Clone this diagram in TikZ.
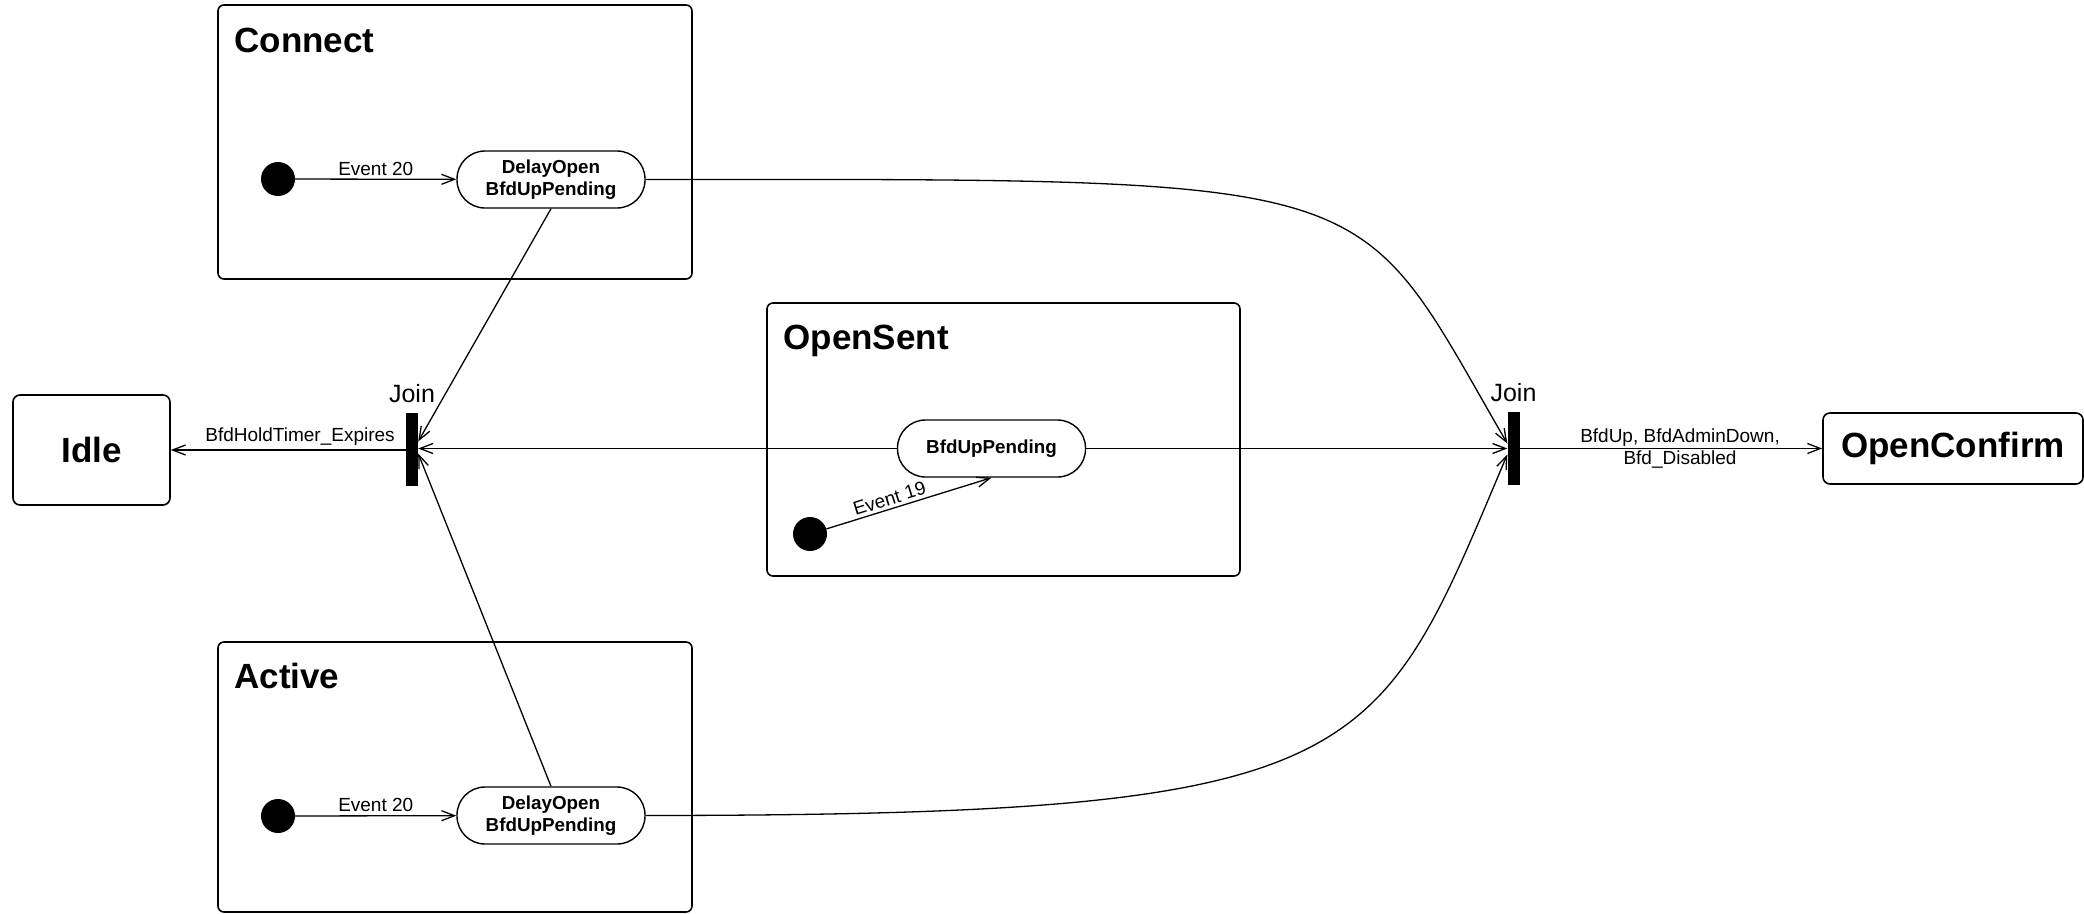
\documentclass[tikz,border=0pt]{standalone}
\usepackage{fontspec}
\setmainfont{Liberation Sans}
\usetikzlibrary{arrows.meta}

\begin{document}
\begin{tikzpicture}[x=1pt, y=-1pt,
  compbox/.style={draw, line width=1.6pt, rounded corners=6pt, inner sep=0pt},
  boxtitle/.style={font=\fontsize{35}{40}\selectfont\bfseries, inner sep=0pt, anchor=base west},
  bigstate/.style={draw, line width=1.6pt, rounded corners=7pt, inner sep=0pt, font=\fontsize{35}{40}\selectfont\bfseries},
  substate/.style={draw, line width=1.4pt, rounded corners=28pt, minimum width=188pt, minimum height=57pt,
    align=center, inner sep=0pt, font=\fontsize{18.8}{21.5}\selectfont\bfseries},
  startdot/.style={circle, fill=black, minimum size=34pt, inner sep=0pt},
  joinbar/.style={fill=black, minimum width=12pt, minimum height=73pt, inner sep=0pt},
  joinlbl/.style={font=\fontsize{25}{30}\selectfont, inner sep=0pt, anchor=base},
  lbl/.style={font=\fontsize{19}{21.5}\selectfont, inner sep=0pt},
  trans/.style={line width=1.3pt, -{Straight Barb[length=13pt, width=10pt]}},
]
\useasboundingbox (0,0) rectangle (2084,913);

% composite states
\node[compbox, minimum width=474pt, minimum height=274pt] (connect) at (455,142) {};
\node[boxtitle] at ([xshift=17pt, yshift=-48pt]connect.north west) {Connect};
\node[compbox, minimum width=473pt, minimum height=273pt] (opensent) at (1003.5,439.5) {};
\node[boxtitle] at ([xshift=17pt, yshift=-47pt]opensent.north west) {OpenSent};
\node[compbox, minimum width=474pt, minimum height=270pt] (active) at (455,777) {};
\node[boxtitle] at ([xshift=17pt, yshift=-47pt]active.north west) {Active};

% simple states
\node[bigstate, minimum width=157pt, minimum height=110pt] (idle) at (91.5,450) {Idle};
\node[bigstate, minimum width=260pt, minimum height=71pt] (openconfirm) at (1953,448.5) {OpenConfirm};

% sub states
\node[startdot] (initC) at (278,179) {};
\node[substate] (dlyC) at (551,179.5) {DelayOpen\\BfdUpPending};
\node[startdot] (initA) at (278,816) {};
\node[substate] (dlyA) at (551,815.5) {DelayOpen\\BfdUpPending};
\node[startdot] (initS) at (810,534) {};
\node[substate] (bfdS) at (991.5,448.5) {BfdUpPending};

% join bars
\node[joinbar] (joinL) at (412,449.5) {};
\node[joinlbl] at ([yshift=10pt]joinL.north) {Join};
\node[joinbar] (joinR) at (1513.5,448.5) {};
\node[joinlbl] at ([yshift=10pt]joinR.north) {Join};

% transitions
\draw[trans] (initC) -- node[lbl, above=3pt] {Event 20} (dlyC);
\draw[trans] (initA) -- node[lbl, above=3pt] {Event 20} (dlyA);
\draw[trans] (initS) -- node[lbl, sloped, above=3pt, pos=0.4] {Event 19} (bfdS.south);

\draw[trans] (dlyC.south) -- ([yshift=8pt]joinL.east);
\draw[trans] (bfdS.west) -- ([yshift=1pt]joinL.east);
\draw[trans] (dlyA.north) -- ([yshift=-4pt]joinL.east);
\draw[trans] (joinL.west |- idle.east) -- node[lbl, above=4pt, pos=0.45] {BfdHoldTimer\_Expires} (idle.east);

\draw[trans] (dlyC.east) .. controls (1398,179) and (1351,174) .. ([yshift=5pt]joinR.west);
\draw[trans] (bfdS.east) -- (joinR.west);
\draw[trans] (dlyA.east) .. controls (1374,815) and (1375,767) .. ([yshift=-6pt]joinR.west);
\draw[trans] (joinR.east) -- node[lbl, align=center, pos=0.53] {BfdUp, BfdAdminDown,\\Bfd\_Disabled} (openconfirm.west);

\end{tikzpicture}
\end{document}
